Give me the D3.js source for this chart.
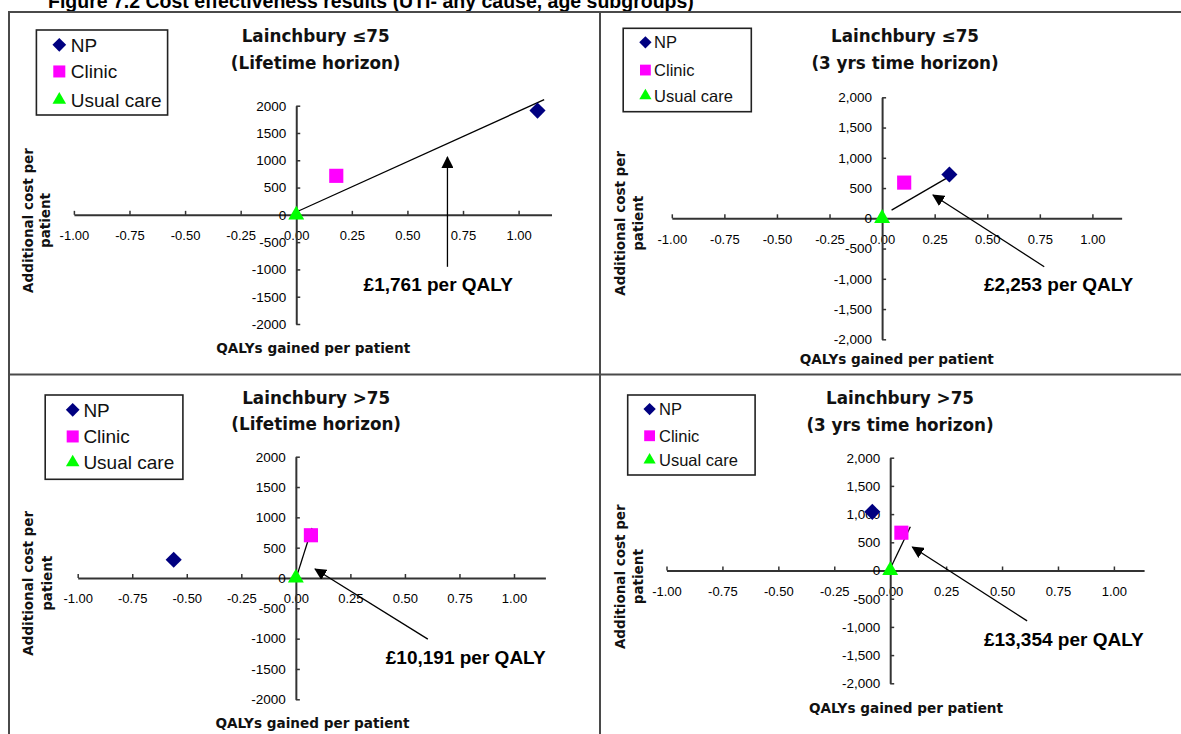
<!DOCTYPE html>
<html><head><meta charset="utf-8">
<script src="https://cdn.jsdelivr.net/npm/d3@7"></script>
<style>body{margin:0;background:#fff}svg{display:block}</style>
</head><body>
<svg id="chart" width="1181" height="734"></svg>
<script>
// ---------- data ----------
const figureTitle = "Figure 7.2 Cost effectiveness results (UTI- any cause, age subgroups)";
const seriesNames = ["NP", "Clinic", "Usual care"];
const titleLine1 = ["Lainchbury \u226475", "Lainchbury \u226475", "Lainchbury >75", "Lainchbury >75"];
const titleLine2 = ["(Lifetime horizon)", "(3 yrs time horizon)", "(Lifetime horizon)", "(3 yrs time horizon)"];
const npQalys = [1.085, 0.32, -0.56, -0.08];
const npCosts = [1910, 725, 300, 1040];
const clinicQalys = [0.18, 0.105, 0.069, 0.05];
const clinicCosts = [715, 590, 705, 670];
const usualQalys = [0, 0, 0, 0];
const usualCosts = [0, 0, 0, 0];
const icerLabels = ["\u00a31,761 per QALY", "\u00a32,253 per QALY", "\u00a310,191 per QALY", "\u00a313,354 per QALY"];
const icerLineStart = [[0.01, 70], [0.045, 135], [0.004, 26], [0, 30]];
const icerLineEnd = [[1.115, 2110], [0.305, 660], [0.074, 825], [0.09, 775]];
const arrowTails = [[0.68, -952], [0.771, -800], [0.605, -1007], [0.612, -893]];
const arrowHeads = [[0.68, 1062], [0.242, 385], [0.088, 148], [0.099, 417]];
const xTickValues = [-1, -0.75, -0.5, -0.25, 0, 0.25, 0.5, 0.75, 1];
const yTickValues = [-2000, -1500, -1000, -500, 0, 500, 1000, 1500, 2000];
const xAxisTitle = "QALYs gained per patient";
const yAxisTitle = ["Additional cost per", "patient"];

// ---------- layout / style ----------
const seriesColors = ["#000080", "#ff00ff", "#00ff00"];
const seriesShapes = ["diamond", "square", "triangle"];
const panels = [
  {x0: 73.9, x1: 518.6, xMax: 1.148, yTop: 105.7, yBot: 324, comma: false,
   leg: {x: 36.4, y: 30, w: 131.2, h: 85, mx: 59.3, tx: 70.8, rows: [51.7, 78.3, 106.7], fs: 19, ms: 1},
   title: {x: 315.7, y1: 41.7, y2: 69.3}, ylab: {cy: 220.5, b1: 33, b2: 50},
   xlab: {x: 313.2, y: 353}, note: {x: 363.6, y: 291}},
  {x0: 671.8, x1: 1092.4, xMax: 1.139, yTop: 97.3, yBot: 339.3, comma: true,
   leg: {x: 623.2, y: 28.3, w: 128.1, h: 83.4, mx: 645.4, tx: 654.1, rows: [48.3, 76, 101.7], fs: 16.5, ms: 0.9},
   title: {x: 905, y1: 42.3, y2: 69.3}, ylab: {cy: 223.3, b1: 625, b2: 643},
   xlab: {x: 896.8, y: 364}, note: {x: 983.9, y: 291}},
  {x0: 77.7, x1: 514, xMax: 1.144, yTop: 456.7, yBot: 699.3, comma: false,
   leg: {x: 45.2, y: 395, w: 137.7, h: 84.3, mx: 72.7, tx: 83.4, rows: [416.7, 443.3, 469.3], fs: 19, ms: 1},
   title: {x: 316.2, y1: 404.3, y2: 430}, ylab: {cy: 583.3, b1: 32.5, b2: 52},
   xlab: {x: 312.5, y: 727.7}, note: {x: 385.8, y: 664}},
  {x0: 666.5, x1: 1113.9, xMax: 1.135, yTop: 457.7, yBot: 683.3, comma: true,
   leg: {x: 627.7, y: 395, w: 127.4, h: 80, mx: 649.6, tx: 659, rows: [415, 441.7, 466], fs: 16.5, ms: 0.9},
   title: {x: 900, y1: 404.3, y2: 430.7}, ylab: {cy: 576.7, b1: 625, b2: 643},
   xlab: {x: 906, y: 713.3}, note: {x: 983.9, y: 645.7}}
];

const svg = d3.select("#chart");
const defs = svg.append("defs");
defs.append("marker").attr("id", "arrow").attr("markerUnits", "userSpaceOnUse")
  .attr("markerWidth", 14).attr("markerHeight", 12).attr("refX", 11).attr("refY", 6)
  .attr("orient", "auto")
  .append("path").attr("d", "M0,0 L12,6 L0,12 Z").attr("fill", "#000");

function symbolPath(shape, scale) {
  if (shape === "diamond") return d3.symbol(d3.symbolSquare, 130 * scale * scale)();
  if (shape === "square") return d3.symbol(d3.symbolSquare, 200 * scale * scale)();
  return d3.symbol(d3.symbolTriangle, 110 * scale * scale)();
}
function drawSymbol(g, shape, cx, cy, color, scale) {
  g.append("path").attr("d", symbolPath(shape, scale))
    .attr("transform", `translate(${cx},${cy})` + (shape === "diamond" ? " rotate(45)" : ""))
    .attr("fill", color);
}

// figure title (cut at top, as in the source)
svg.append("text").attr("x", 48).attr("y", 7.5)
  .attr("font-family", "Liberation Sans, Arial, sans-serif").attr("font-weight", "bold")
  .attr("font-size", 19.5).attr("fill", "#000").text(figureTitle);

// frame
const frame = svg.append("g").attr("stroke", "#4a4a4a").attr("stroke-width", 2).attr("fill", "none");
frame.append("line").attr("x1", 8).attr("x2", 1181).attr("y1", 12).attr("y2", 12);
frame.append("line").attr("x1", 9).attr("x2", 9).attr("y1", 11).attr("y2", 734);
frame.append("line").attr("x1", 600).attr("x2", 600).attr("y1", 11).attr("y2", 734);
frame.append("line").attr("x1", 8).attr("x2", 1181).attr("y1", 374.5).attr("y2", 374.5);

const fmtPlain = d => String(d);
const fmtComma = d => d.toLocaleString("en-US");
const fmtX = d => d.toFixed(2);

panels.forEach((p, i) => {
  const unit = (p.x1 - p.x0) / 2;
  const x = d3.scaleLinear().domain([-1, p.xMax]).range([p.x0, p.x0 + (p.xMax + 1) * unit]);
  const y = d3.scaleLinear().domain([-2000, 2000]).range([p.yBot, p.yTop]);
  const g = svg.append("g");

  const xa = g.append("g").attr("transform", `translate(0,${y(0)})`)
    .call(d3.axisBottom(x).tickValues(xTickValues).tickFormat(fmtX)
      .tickSizeInner(-4).tickSizeOuter(0).tickPadding(16));
  const ya = g.append("g").attr("transform", `translate(${x(0)},0)`)
    .call(d3.axisLeft(y).tickValues(yTickValues).tickFormat(p.comma ? fmtComma : fmtPlain)
      .tickSizeInner(-4).tickSizeOuter(0).tickPadding(10));
  [xa, ya].forEach(a => {
    a.select(".domain").attr("stroke", "#333").attr("stroke-width", 2);
    a.selectAll(".tick line").attr("stroke", "#333").attr("stroke-width", 1.5);
    a.selectAll(".tick text").attr("fill", "#000")
      .attr("font-family", "Liberation Sans, Arial, sans-serif");
  });
  xa.selectAll(".tick text").attr("font-size", 13);
  ya.selectAll(".tick text").attr("font-size", 13.5);

  g.append("line")
    .attr("x1", x(icerLineStart[i][0])).attr("y1", y(icerLineStart[i][1]))
    .attr("x2", x(icerLineEnd[i][0])).attr("y2", y(icerLineEnd[i][1]))
    .attr("stroke", "#000").attr("stroke-width", 1.3);

  const pts = [
    [npQalys[i], npCosts[i], 0],
    [clinicQalys[i], clinicCosts[i], 1],
    [usualQalys[i], usualCosts[i], 2]
  ];
  pts.forEach(([qx, cy, s]) => drawSymbol(g, seriesShapes[s], x(qx), y(cy), seriesColors[s], 1));

  g.append("line")
    .attr("x1", x(arrowTails[i][0])).attr("y1", y(arrowTails[i][1]))
    .attr("x2", x(arrowHeads[i][0])).attr("y2", y(arrowHeads[i][1]))
    .attr("stroke", "#000").attr("stroke-width", 1.3).attr("marker-end", "url(#arrow)");

  g.append("text").attr("x", p.note.x).attr("y", p.note.y)
    .attr("font-family", "Liberation Sans, Arial, sans-serif").attr("font-weight", "bold")
    .attr("font-size", 19).attr("fill", "#000").text(icerLabels[i]);

  const tf = "DejaVu Sans, Verdana, sans-serif";
  g.append("text").attr("x", p.title.x).attr("y", p.title.y1).attr("text-anchor", "middle")
    .attr("font-family", tf).attr("font-weight", "bold").attr("font-size", 16.8)
    .attr("fill", "#111").text(titleLine1[i]);
  g.append("text").attr("x", p.title.x).attr("y", p.title.y2).attr("text-anchor", "middle")
    .attr("font-family", tf).attr("font-weight", "bold").attr("font-size", 16.8)
    .attr("fill", "#111").text(titleLine2[i]);

  g.append("text").attr("x", p.xlab.x).attr("y", p.xlab.y).attr("text-anchor", "middle")
    .attr("font-family", tf).attr("font-weight", "bold").attr("font-size", 13.6)
    .attr("fill", "#111").text(xAxisTitle);
  const yl = g.append("g").attr("transform", `translate(0,${p.ylab.cy}) rotate(-90)`);
  [p.ylab.b1, p.ylab.b2].forEach((b, k) => {
    yl.append("text").attr("x", 0).attr("y", b).attr("text-anchor", "middle")
      .attr("font-family", tf).attr("font-weight", "bold").attr("font-size", 13.5)
      .attr("fill", "#111").text(yAxisTitle[k]);
  });

  const L = p.leg;
  g.append("rect").attr("x", L.x).attr("y", L.y).attr("width", L.w).attr("height", L.h)
    .attr("fill", "#fff").attr("stroke", "#222").attr("stroke-width", 1.6);
  seriesNames.forEach((name, s) => {
    drawSymbol(g, seriesShapes[s], L.mx, L.rows[s] - L.fs * 0.36, seriesColors[s], 0.85 * L.ms);
    g.append("text").attr("x", L.tx).attr("y", L.rows[s])
      .attr("font-family", "Liberation Sans, Arial, sans-serif").attr("font-size", L.fs)
      .attr("fill", "#111").text(name);
  });
});
</script>
</body></html>
